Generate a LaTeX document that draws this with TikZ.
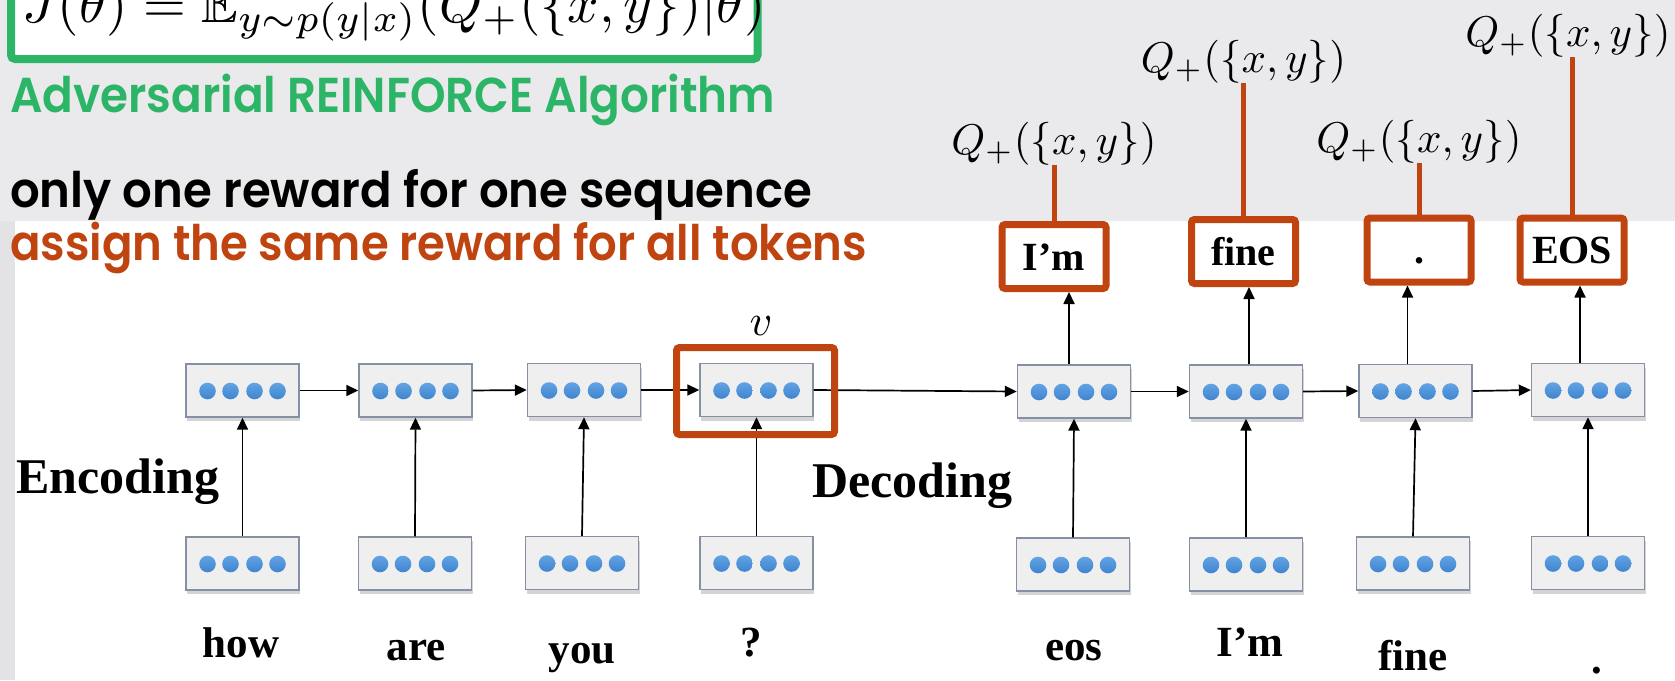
\documentclass[tikz,border=0pt]{standalone}
\usepackage{fontspec}
\usepackage{amsmath,amssymb}
\usepackage{graphicx}
\newfontfamily\lblfont{Liberation Serif}
% headline face: semibold geometric sans where available, else bold
\IfFontExistsTF{Poppins SemiBold}
  {\newfontfamily\headfont{Poppins SemiBold}}
  {\newfontfamily\headbase{Poppins}\newcommand\headfont{\headbase\bfseries}}
\usetikzlibrary{arrows.meta,shadows}

\definecolor{pagegray}{HTML}{EAEAEC}
\definecolor{stripgray}{HTML}{E3E3E6}
\definecolor{objgreen}{HTML}{2DB567}
\definecolor{rewardorange}{HTML}{BF440F}
\definecolor{boxfill}{HTML}{EFEFEF}
\definecolor{boxedge}{HTML}{8590A5}
\definecolor{dottop}{HTML}{62A3E3}
\definecolor{dotbottom}{HTML}{3F84CF}

\begin{document}
\begin{tikzpicture}[x=1pt,y=-1pt,
  hid/.style={draw=boxedge, line width=1.4pt, fill=boxfill,
    minimum width=113pt, minimum height=53pt, inner sep=0pt,
    drop shadow={shadow xshift=1pt, shadow yshift=-4pt, opacity=0.28, fill=black!60}},
  outbox/.style={draw=rewardorange, line width=7pt, fill=white, rounded corners=3pt,
    minimum width=104pt, minimum height=64pt, inner sep=0pt,
    text height=27pt, text depth=0pt,
    font=\lblfont\bfseries\fontsize{40}{44}\selectfont},
  word/.style={anchor=base, inner sep=0pt, font=\lblfont\bfseries\fontsize{43}{48}\selectfont},
  phase/.style={anchor=base west, inner sep=0pt, font=\lblfont\bfseries\fontsize{50}{56}\selectfont},
  qlabel/.style={anchor=south, inner sep=0pt},
  head/.style={anchor=base west, inner sep=0pt, font=\headfont\fontsize{49}{54}\selectfont},
  arr/.style={line width=1.7pt, -{Triangle[length=12pt,width=11pt]}},
  rline/.style={draw=rewardorange, line width=5pt},
]
\useasboundingbox (0,0) rectangle (1675,680);

% page background: grey slide header, white diagram area
\fill[pagegray] (0,0) rectangle (1675,680);
\fill[stripgray] (0,221) rectangle (15,680);
\fill[white] (15,221) rectangle (1675,680);

% objective in its green frame
\draw[draw=objgreen, line width=8pt, fill=white, rounded corners=4pt] (11,-80) rectangle (757.5,59);
\node[anchor=base west, inner sep=0pt] (obj) at (22,22)
  {\scalebox{5.5}{$J(\theta) = \mathbb{E}_{y\sim p(y|x)}(Q_+(\{x,y\})|\theta)$}};

% headlines
\node[head, text=objgreen] (algo) at (10,112)
  {\resizebox{765pt}{\height}{Adversarial REINFORCE Algorithm}};
\node[head, text=black] (note1) at (10,207)
  {\resizebox{802pt}{\height}{only one reward for one sequence}};
\node[head, text=rewardorange] (note2) at (10,260)
  {\resizebox{857pt}{\height}{assign the same reward for all tokens}};

% encoder: hidden states and embeddings
\node[hid] (e1) at (242.5,390.5) {};
\node[hid] (e2) at (415.5,390.5) {};
\node[hid] (e3) at (584,390) {};
\node[hid] (e4) at (756.5,390) {};
\node[hid] (x1) at (242.5,563.5) {};
\node[hid] (x2) at (415,563.5) {};
\node[hid] (x3) at (582,563) {};
\node[hid] (x4) at (756.5,563) {};

% decoder: hidden states and embeddings
\node[hid] (d1) at (1074,391.5) {};
\node[hid] (d2) at (1246,391.5) {};
\node[hid] (d3) at (1415.5,391) {};
\node[hid] (d4) at (1588,390) {};
\node[hid] (y1) at (1073,564.5) {};
\node[hid] (y2) at (1246,564.5) {};
\node[hid] (y3) at (1413,563.5) {};
\node[hid] (y4) at (1588,563) {};

% four units inside every state box
\foreach \n in {e1,e2,e3,e4,x1,x2,x3,x4,d1,d2,d3,d4,y1,y2,y3,y4}
  \foreach \dx in {-35,-12,12,35}
    \shade[top color=dottop, bottom color=dotbottom]
      ([xshift=\dx pt, yshift=-0.5pt]\n.center) circle (8.3pt);

% input words
\node[word] (w1) at (241,657) {how};
\node[word] (w2) at (416,660) {are};
\node[word] (w3) at (582,663) {you};
\node[word] (w4) at (751,656) {?};
\node[word] (w5) at (1074,660) {eos};
\node[word] (w6) at (1250,656) {I’m};
\node[word] (w7) at (1413,670) {fine};
\node[word] (w8) at (1597,673) {.};

\node[phase] (enc) at (16,493) {Encoding};
\node[phase] (dec) at (812,497) {Decoding};

% recurrent connections
\draw[arr] (e1.east) -- (e2.west);
\draw[arr] (e2.east) -- (e3.west);
\draw[arr] (e3.east) -- (e4.west);
\draw[arr] (e4.east) -- (d1.west);
\draw[arr] (d1.east) -- (d2.west);
\draw[arr] (d2.east) -- (d3.west);
\draw[arr] (d3.east) -- (d4.west);

% embeddings feed the hidden states
\foreach \a/\b in {x1/e1,x2/e2,x3/e3,x4/e4,y1/d1,y2/d2,y3/d3,y4/d4}
  \draw[arr] (\a.north) -- (\b.south);

% generated tokens
\node[outbox] (o1) at (1054,256.5) {I’m};
\node[outbox] (o2) at (1243.5,251.5) {fine};
\node[outbox] (o3) at (1419,250) {.};
\node[outbox] (o4) at (1572,250) {EOS};

\draw[arr] ([xshift=-5pt]d1.north) -- ([xshift=-5pt]d1.north |- o1.south);
\draw[arr] ([xshift=3pt]d2.north) -- ([xshift=3pt]d2.north |- o2.south);
\draw[arr] ([xshift=-8pt]d3.north) -- ([xshift=-8pt]d3.north |- o3.south);
\draw[arr] ([xshift=-8pt]d4.north) -- ([xshift=-8pt]d4.north |- o4.south);

% the same sequence-level reward on every token
\node[qlabel] (q1) at (1054,165) {\scalebox{4.3}{$Q_+(\{x,y\})$}};
\node[qlabel] (q2) at (1243.5,83) {\scalebox{4.3}{$Q_+(\{x,y\})$}};
\node[qlabel] (q3) at (1419,163) {\scalebox{4.3}{$Q_+(\{x,y\})$}};
\node[qlabel] (q4) at (1568,57) {\scalebox{4.3}{$Q_+(\{x,y\})$}};

\draw[rline] (o1.north) -- (o1.north |- q1.south);
\draw[rline] (o2.north) -- (o2.north |- q2.south);
\draw[rline] (o3.north) -- (o3.north |- q3.south);
\draw[rline] (o4.north) -- (o4.north |- q4.south);

% context vector
\node[draw=rewardorange, line width=7pt, rounded corners=3pt,
      minimum width=158pt, minimum height=87pt, inner sep=0pt] (vf) at (755.5,391) {};
\node[anchor=base, inner sep=0pt] (vlab) at (761,335) {\scalebox{4.4}{$v$}};
\end{tikzpicture}
\end{document}
